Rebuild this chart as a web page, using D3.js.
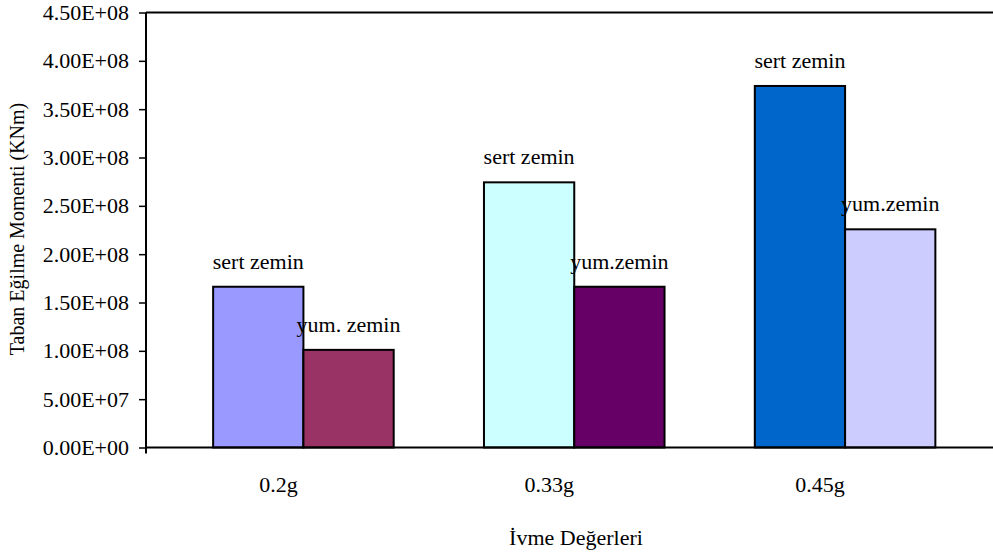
<!DOCTYPE html>
<html>
<head>
<meta charset="utf-8">
<script src="https://cdn.jsdelivr.net/npm/d3@7/dist/d3.min.js"></script>
<style>
  html, body { margin: 0; padding: 0; background: #fff; }
  svg, svg text { font-family: "Liberation Serif", "DejaVu Serif", serif; }
</style>
</head>
<body>
<svg id="chart" width="993" height="552"></svg>
<script>
// Ground acceleration levels (categories)
const categories = ["0.2g", "0.33g", "0.45g"];
// Soil types drawn side by side in each group
const series = ["sert", "yumusak"];
// Base bending moment (KNm) for stiff soil / soft soil
const sertValues = [1.663e8, 2.743e8, 3.740e8];
const yumValues = [1.010e8, 1.663e8, 2.257e8];
// Text printed above each bar
const sertLabels = ["sert zemin", "sert zemin", "sert zemin"];
const yumLabels = ["yum. zemin", "yum.zemin", "yum.zemin"];
// Fill for each bar, per group: [sert, yumusak]
const barColors = [["#9999FF", "#993366"], ["#CCFFFF", "#660066"], ["#0066CC", "#CCCCFF"]];
// Y-axis tick values and their labels
const yTicks = [0, 5e7, 1e8, 1.5e8, 2e8, 2.5e8, 3e8, 3.5e8, 4e8, 4.5e8];
const yTickLabels = ["0.00E+00", "5.00E+07", "1.00E+08", "1.50E+08", "2.00E+08",
                     "2.50E+08", "3.00E+08", "3.50E+08", "4.00E+08", "4.50E+08"];

const rows = categories.map((c, i) => ({
  cat: c,
  bars: [
    { key: "sert", value: sertValues[i], label: sertLabels[i], color: barColors[i][0] },
    { key: "yumusak", value: yumValues[i], label: yumLabels[i], color: barColors[i][1] }
  ]
}));

const svg = d3.select("#chart");
const plot = { left: 146, top: 12.5, bottom: 447.5, right: 1020 };
const serif = "'Liberation Serif', 'DejaVu Serif', serif";

const y = d3.scaleLinear().domain([0, 4.5e8]).range([plot.bottom, plot.top]);
const x = d3.scaleBand().domain(categories).range([168, 980.5])
  .paddingInner(1 / 3).paddingOuter(1 / 6);
const xi = d3.scaleBand().domain(series).range([0, x.bandwidth()]);

const fontSize = 22;

// Bars
const groups = svg.append("g").selectAll("g.group").data(rows).join("g")
  .attr("class", "group")
  .attr("transform", d => `translate(${x(d.cat)},0)`);

groups.selectAll("rect").data(d => d.bars).join("rect")
  .attr("x", d => xi(d.key))
  .attr("y", d => y(d.value))
  .attr("width", xi.bandwidth())
  .attr("height", d => y(0) - y(d.value))
  .attr("fill", d => d.color)
  .attr("stroke", "#000")
  .attr("stroke-width", 2);

// Labels above bars
groups.selectAll("text").data(d => d.bars).join("text")
  .attr("x", d => xi(d.key) + xi.bandwidth() / 2)
  .attr("y", d => y(d.value) - 18)
  .attr("text-anchor", "middle")
  .style("font-family", serif)
  .attr("font-size", fontSize)
  .attr("fill", "#000")
  .text(d => d.label);

// Plot area border (top and bottom) and value axis
svg.append("line")
  .attr("x1", plot.left).attr("x2", plot.right)
  .attr("y1", plot.top).attr("y2", plot.top)
  .attr("stroke", "#000").attr("stroke-width", 2);

svg.append("line")
  .attr("x1", plot.left).attr("x2", plot.right)
  .attr("y1", y(0)).attr("y2", y(0))
  .attr("stroke", "#000").attr("stroke-width", 2);

const yAxis = d3.axisLeft(y)
  .tickValues(yTicks)
  .tickSize(7)
  .tickPadding(10)
  .tickFormat((d, i) => yTickLabels[i]);

const gy = svg.append("g")
  .attr("transform", `translate(${plot.left},0)`)
  .call(yAxis)
  .attr("font-family", null);
gy.select(".domain").attr("stroke", "#000").attr("stroke-width", 2)
  .attr("d", `M0,${plot.top}V${plot.bottom + 6}`);
gy.selectAll(".tick line").attr("stroke", "#000").attr("stroke-width", 1.5);
gy.selectAll(".tick text")
  .style("font-family", serif)
  .attr("font-size", fontSize)
  .attr("fill", "#000");

// Category labels
svg.append("g").selectAll("text").data(categories).join("text")
  .attr("x", d => x(d) + x.bandwidth() / 2 - 25)
  .attr("y", 492)
  .attr("text-anchor", "middle")
  .style("font-family", serif)
  .attr("font-size", fontSize)
  .attr("fill", "#000")
  .text(d => d);

// Axis titles
svg.append("text")
  .attr("x", 576).attr("y", 545)
  .attr("text-anchor", "middle")
  .style("font-family", serif)
  .attr("font-size", 22)
  .attr("fill", "#000")
  .text("İvme Değerleri");

svg.append("text")
  .attr("transform", `translate(24,229) rotate(-90)`)
  .attr("text-anchor", "middle")
  .style("font-family", serif)
  .attr("font-size", 20)
  .attr("fill", "#000")
  .text("Taban Eğilme Momenti (KNm)");
</script>
</body>
</html>
